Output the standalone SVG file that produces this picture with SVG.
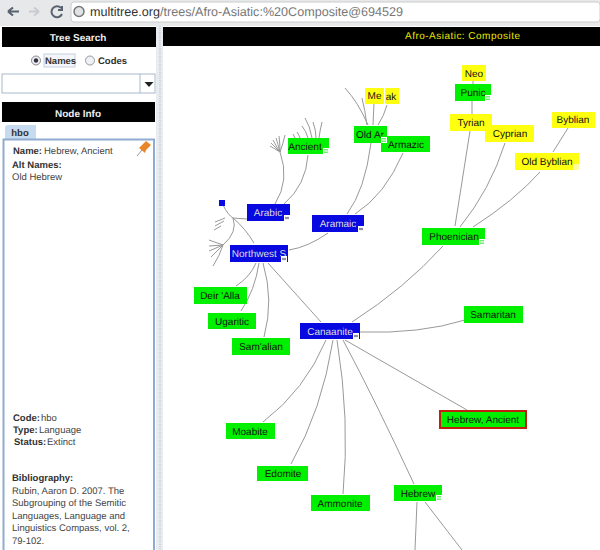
<svg xmlns="http://www.w3.org/2000/svg" width="600" height="550" viewBox="0 0 600 550">
<style>
text{font-family:"Liberation Sans",Arial,sans-serif;text-rendering:geometricPrecision}
.n{font-size:10px;fill:#111;text-anchor:middle}
.w{font-size:10px;fill:#ddd;text-anchor:middle}
.g{fill:#00f000}.y{fill:#ffff10}.b{fill:#0808e0}
.e{fill:none;stroke:#999;stroke-width:1}
.t{font-size:9.500px;fill:#444}
.tb{font-size:9.500px;fill:#333;font-weight:bold}
.h{font-size:10px;fill:#eee;font-weight:bold;text-anchor:middle}
.x{fill:#70f070;stroke:#fff;stroke-width:1}
.xb{fill:#eef;stroke:#fff;stroke-width:1}
.d{stroke:#fff;stroke-width:1}
.db{stroke:#334;stroke-width:1}
</style>
<rect width="600" height="550" fill="#fff"/>
<g id="browser-bar">
<rect width="600" height="26" fill="#e6e8ea"/>
<rect x="71" y="2" width="529" height="20" rx="3" fill="#fff" stroke="#ccc"/>
<path d="M19 11.500H8M8 11.500l5-4M8 11.500l5 4" fill="none" stroke="#59636e" stroke-width="2.200"/>
<path d="M29 11.500H39M39 11.500l-5-4M39 11.500l-5 4" fill="none" stroke="#c8ccd0" stroke-width="2"/>
<path d="M61 8A5.500 5.500 0 1 0 62 14M62 6v4h-4" fill="none" stroke="#59636e" stroke-width="2"/>
<circle cx="79" cy="11.500" r="5" fill="#dfe3e6" stroke="#777" stroke-width="1.500"/>
<text x="90" y="16" font-size="12.600" fill="#333">multitree.org<tspan fill="#777">/trees/Afro-Asiatic:%20Composite@694529</tspan></text>
</g>
<g id="left-panel">
<rect x="0" y="26" width="156" height="524" fill="#fff"/>
<rect x="2" y="27" width="154" height="20" fill="#000"/>
<text x="78" y="41" class="h">Tree Search</text>
<circle cx="36" cy="60.500" r="4.500" fill="#eef" stroke="#888"/><circle cx="36" cy="60.500" r="2.200" fill="#333"/>
<rect x="44" y="54" width="31" height="13" fill="#f4f6fa" stroke="#c4d0e0"/>
<text x="45" y="64" class="tb">Names</text>
<circle cx="90" cy="60.500" r="4.500" fill="#eef2f8" stroke="#999"/>
<text x="98" y="64" class="tb">Codes</text>
<rect x="2" y="74" width="153" height="19" fill="#fff" stroke="#a8b8cc"/>
<line x1="140" y1="74" x2="140" y2="93" stroke="#a8b8cc"/>
<path d="M144.500 82h9l-4.500 5z" fill="#222"/>
<rect x="2" y="102" width="153" height="20" fill="#000"/>
<text x="78" y="117" class="h">Node Info</text>
<path d="M5 139V128q0-3 3-3H36V139z" fill="#c6daf0"/>
<text x="20" y="136" class="tb" text-anchor="middle">hbo</text>
<path d="M3.500 550V139.500H154V550" fill="none" stroke="#8fabd0" stroke-width="2"/>
<text x="13" y="154" class="tb">Name:</text><text x="44" y="154" class="t">Hebrew, Ancient</text>
<path d="M141 146l5-5 5 4-5 5-1 3-6-5z" fill="#e8862a"/><path d="M142 150l-5 6" stroke="#999"/>
<text x="12" y="168" class="tb">Alt Names:</text>
<text x="12" y="180" class="t">Old Hebrew</text>
<text x="13" y="421" class="tb">Code:</text><text x="41" y="421" class="t">hbo</text>
<text x="13" y="433" class="tb">Type:</text><text x="39" y="433" class="t">Language</text>
<text x="14" y="445" class="tb">Status:</text><text x="47" y="445" class="t">Extinct</text>
<text x="12" y="481" class="tb">Bibliography:</text>
<text x="12" y="494" class="t">Rubin, Aaron D. 2007. The</text>
<text x="12" y="506" class="t">Subgrouping of the Semitic</text>
<text x="12" y="519" class="t">Languages, Language and</text>
<text x="12" y="531" class="t">Linguistics Compass, vol. 2,</text>
<text x="12" y="544" class="t">79-102.</text>
</g>
<g id="splitter"><rect x="156" y="26" width="7" height="524" fill="#e8ecf0"/><line x1="160" y1="26" x2="160" y2="550" stroke="#bbb" stroke-dasharray="1 1"/></g>
<g id="title"><rect x="163" y="27" width="437" height="19" fill="#000"/><text x="405" y="39" font-size="10" fill="#e8e800" textLength="115">Afro-Asiatic: Composite</text></g>
<g id="connectors">
<path class="e" d="M275 204Q290 180 280 152"/>
<path class="e" d="M284 204Q306 185 308 155"/>
<path class="e" d="M280 152L270 146M280 152L271 143M280 152Q276 146 273 140M280 152Q278 144 276 138M280 152Q280 144 279 136M280 152Q283 144 285 135"/>
<path class="e" d="M295 138L293 134M300 138Q299 135 297 132M308 138Q306 131 302 126M312 138Q310 126 305 118M316 138Q316 130 313 122M319 138Q320 130 322 122"/>
<path class="e" d="M347 214Q365 190 371 143"/>
<path class="e" d="M355 214Q385 195 403 153"/>
<path class="e" d="M368 125Q358 102 345 88M367 125Q365 110 362 98M373 125L374 103M378 125Q384 116 387 105"/>
<path class="e" d="M289 250Q308 247 328 233"/>
<path class="e" d="M247 219L233 218Q228 215 223 205"/>
<path class="e" d="M254 243Q245 228 233 218Q238 232 223 245Q220 255 213 266"/>
<path class="e" d="M223 245L209 240M223 245L209 246M223 245L209 251M223 245L211 257M225 218L215 222M224 221L215 226M221 226L214 230"/>
<path class="e" d="M256 263Q250 277 236 286M259 263Q255 290 241 311M263 263Q274 300 264 337M268 263L321 322"/>
<path class="e" d="M352 322Q405 288 443 246"/>
<path class="e" d="M470 131L455 226"/>
<path class="e" d="M505 143Q490 190 460 227"/>
<path class="e" d="M568 128L553 152"/>
<path class="e" d="M540 172Q515 200 473 227"/>
<path class="e" d="M473 81V84M472 101V114"/>
<path class="e" d="M360 332Q420 334 465 320"/>
<path class="e" d="M326 340Q305 390 263 422"/>
<path class="e" d="M333 340Q322 410 291 464"/>
<path class="e" d="M337 340Q350 420 343 494"/>
<path class="e" d="M343 340Q375 400 414 484"/>
<path class="e" d="M345 340L467 410"/>
<path class="e" d="M417 502L415 550"/>
<path class="e" d="M425 502L462 550"/>
</g>
<g id="n-neo"><rect x="462" y="65" width="24" height="16" class="y"/><text x="474" y="77" class="n">Neo</text></g>
<g id="n-punic"><rect x="455" y="84" width="36" height="17" class="g"/><text x="473" y="96" class="n">Punic</text><rect x="485.500" y="95.500" width="5" height="5" class="x"/><line x1="486" y1="98" x2="490" y2="98" class="d"/></g>
<g id="n-me"><rect x="365" y="88" width="19" height="16" class="y"/><text x="374.500" y="99" class="n">Me</text></g>
<g id="n-ak"><rect x="385" y="88" width="14" height="16" class="y"/><text x="391" y="100" class="n">ak</text></g>
<g id="n-byblian"><rect x="552" y="112" width="43" height="16" class="y"/><text x="573" y="123" class="n">Byblian</text></g>
<g id="n-tyrian"><rect x="450" y="114" width="42" height="17" class="y"/><text x="471" y="126" class="n">Tyrian</text><rect x="486.500" y="125.500" width="5" height="5" fill="#ffffc0" stroke="#fff"/></g>
<g id="n-cyprian"><rect x="485" y="125" width="49" height="17" class="y"/><text x="510" y="137" class="n">Cyprian</text></g>
<g id="n-old-byblian"><rect x="515" y="153" width="64" height="17" class="y"/><text x="547" y="165" class="n">Old Byblian</text><rect x="573" y="164" width="6" height="6" fill="#ffffa0"/></g>
<g id="n-old-ar"><rect x="354" y="126" width="33" height="17" class="g"/><text x="370" y="138" class="n">Old Ar</text></g>
<g id="n-armazic"><rect x="381" y="136" width="49" height="16" class="g"/><text x="406" y="148" class="n">Armazic</text></g>
<g id="n-old-ar-toggle"><rect x="381.500" y="137.500" width="5" height="5" class="x"/><line x1="382" y1="140" x2="386" y2="140" class="d"/></g>
<g id="n-ancient"><rect x="288" y="138" width="41" height="16" class="g"/><text x="305" y="150" class="n">Ancient</text><rect x="323.500" y="148.500" width="5" height="5" class="x"/><line x1="324" y1="151" x2="328" y2="151" class="d"/></g>
<g id="n-square"><rect x="219" y="200" width="6" height="6" class="b"/></g>
<g id="n-arabic"><rect x="247" y="204" width="43" height="17" class="b"/><text x="268" y="216" class="w">Arabic</text><rect x="284.500" y="215.500" width="5" height="5" class="xb"/><line x1="285" y1="218" x2="289" y2="218" class="db"/></g>
<g id="n-aramaic"><rect x="312" y="215" width="52" height="17" class="b"/><text x="338" y="227" class="w">Aramaic</text><rect x="358.500" y="226.500" width="5" height="5" class="xb"/><line x1="359" y1="229" x2="363" y2="229" class="db"/></g>
<g id="n-phoenician"><rect x="422" y="228" width="63" height="17" class="g"/><text x="454" y="240" class="n">Phoenician</text><rect x="479.500" y="239.500" width="5" height="5" class="x"/><line x1="480" y1="242" x2="484" y2="242" class="d"/></g>
<g id="n-northwest"><rect x="230" y="245" width="58" height="17" class="b"/><text x="259" y="257" class="w">Northwest S</text><rect x="281.500" y="256.500" width="5" height="5" class="xb"/><line x1="282" y1="259" x2="286" y2="259" class="db"/></g>
<g id="n-deir"><rect x="194" y="287" width="53" height="17" class="g"/><text x="220" y="299" class="n">Deir 'Alla</text></g>
<g id="n-ugaritic"><rect x="208" y="313" width="48" height="16" class="g"/><text x="232" y="325" class="n">Ugaritic</text></g>
<g id="n-samalian"><rect x="232" y="338" width="58" height="17" class="g"/><text x="261" y="350" class="n">Sam'alian</text></g>
<g id="n-canaanite"><rect x="300" y="323" width="60" height="16" class="b"/><text x="330" y="335" class="w">Canaanite</text><rect x="353.500" y="333.500" width="5" height="5" class="xb"/><line x1="354" y1="336" x2="358" y2="336" class="db"/></g>
<g id="n-samaritan"><rect x="464" y="306" width="59" height="17" class="g"/><text x="493" y="318" class="n">Samaritan</text></g>
<g id="n-hebrew-ancient"><rect x="440" y="411" width="86" height="17" class="g" stroke="#c02010" stroke-width="2"/><text x="483" y="423" class="n">Hebrew, Ancient</text></g>
<g id="n-moabite"><rect x="226" y="423" width="49" height="16" class="g"/><text x="250" y="435" class="n">Moabite</text></g>
<g id="n-edomite"><rect x="257" y="466" width="51" height="15" class="g"/><text x="283" y="477" class="n">Edomite</text></g>
<g id="n-ammonite"><rect x="311" y="495" width="59" height="16" class="g"/><text x="340" y="507" class="n">Ammonite</text></g>
<g id="n-hebrew"><rect x="394" y="485" width="48" height="16" class="g"/><text x="418" y="497" class="n">Hebrew</text><rect x="436.500" y="495.500" width="5" height="5" class="x"/><line x1="437" y1="498" x2="441" y2="498" class="d"/></g>
</svg>
